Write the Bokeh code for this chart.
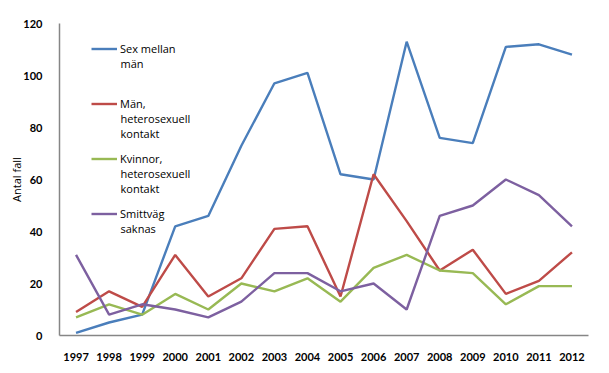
from bokeh.plotting import figure
from bokeh.models import Range1d, FactorRange, Legend, LegendItem, FixedTicker, Label
from bokeh.embed import file_html
from bokeh.resources import INLINE

years = [str(y) for y in range(1997, 2013)]
sex_mellan_man = [1, 5, 8, 42, 46, 73, 97, 101, 62, 60, 113, 76, 74, 111, 112, 108]
man_hetero = [9, 17, 11, 31, 15, 22, 41, 42, 15, 62, 44, 25, 33, 16, 21, 32]
kvinnor_hetero = [7, 12, 8, 16, 10, 20, 17, 22, 13, 26, 31, 25, 24, 12, 19, 19]
smittvag_saknas = [31, 8, 12, 10, 7, 13, 24, 24, 17, 20, 10, 46, 50, 60, 54, 42]
y_ticks = [0, 20, 40, 60, 80, 100, 120]

legend_first = ["Sex mellan", "Män,", "Kvinnor,", "Smittväg"]
legend_rest = [["män"], ["heterosexuell", "kontakt"], ["heterosexuell", "kontakt"], ["saknas"]]
colors = ["#4A7EBB", "#BE4B48", "#98B954", "#7D60A0"]
values = [sex_mellan_man, man_hetero, kvinnor_hetero, smittvag_saknas]

W, H = 601, 365
FRAME_H = 312
p = figure(width=W, height=H, x_range=FactorRange(*years), y_range=Range1d(0, 120),
           output_backend="svg", toolbar_location=None,
           min_border_left=59, min_border_right=13, min_border_top=23, min_border_bottom=30)
p.outline_line_color = None
p.xgrid.grid_line_color = None
p.ygrid.grid_line_color = None
p.x_range.range_padding = 0

items = []
for label, vals, color in zip(legend_first, values, colors):
    r = p.line(years, vals, line_color=color, line_width=2.4)
    items.append(LegendItem(label=label, renderers=[r]))

# legend layout (screen px relative to plot frame)
leg_x, leg_top, row_gap, line_h = 32, 25, 55, 15
legend = Legend(items=items,
                location=(leg_x, FRAME_H - leg_top - (4 * line_h + 3 * (row_gap - line_h)) + line_h // 2))
legend.padding = 0
legend.margin = 0
legend.spacing = row_gap - line_h
legend.glyph_width = 26
legend.glyph_height = line_h
legend.label_height = line_h
legend.label_standoff = 3
legend.border_line_color = None
legend.background_fill_alpha = 0
legend.label_text_font = "Open Sans"
legend.label_text_font_size = "11px"
legend.label_text_color = "#000000"
p.add_layout(legend)

for i, rest in enumerate(legend_rest):
    for j, txt in enumerate(rest):
        sy = FRAME_H - (leg_top + i * row_gap + (j + 1) * line_h)
        p.add_layout(Label(x=leg_x + 26 + 3, y=sy, x_units="screen", y_units="screen", text=txt,
                           text_font="Open Sans", text_font_size="11px", text_color="#000000",
                           text_baseline="middle", text_align="left"))

for ax in (p.xaxis[0], p.yaxis[0]):
    ax.axis_line_color = "#868686"
    ax.axis_line_width = 1.5
    ax.major_tick_line_color = None
    ax.minor_tick_line_color = None
    ax.major_label_text_font = "Lato"
    ax.major_label_text_font_style = "bold"
    ax.major_label_text_font_size = "11px"
    ax.major_label_text_color = "#000000"
    ax.major_label_standoff = 11

p.yaxis[0].ticker = FixedTicker(ticks=y_ticks)
p.yaxis[0].axis_label = "Antal fall"
p.yaxis[0].axis_label_text_font = "Open Sans"
p.yaxis[0].axis_label_text_font_style = "normal"
p.yaxis[0].axis_label_text_font_size = "11px"
p.yaxis[0].axis_label_text_color = "#000000"
p.yaxis[0].axis_label_standoff = -4

open("out.html", "w").write(file_html(p, INLINE))
